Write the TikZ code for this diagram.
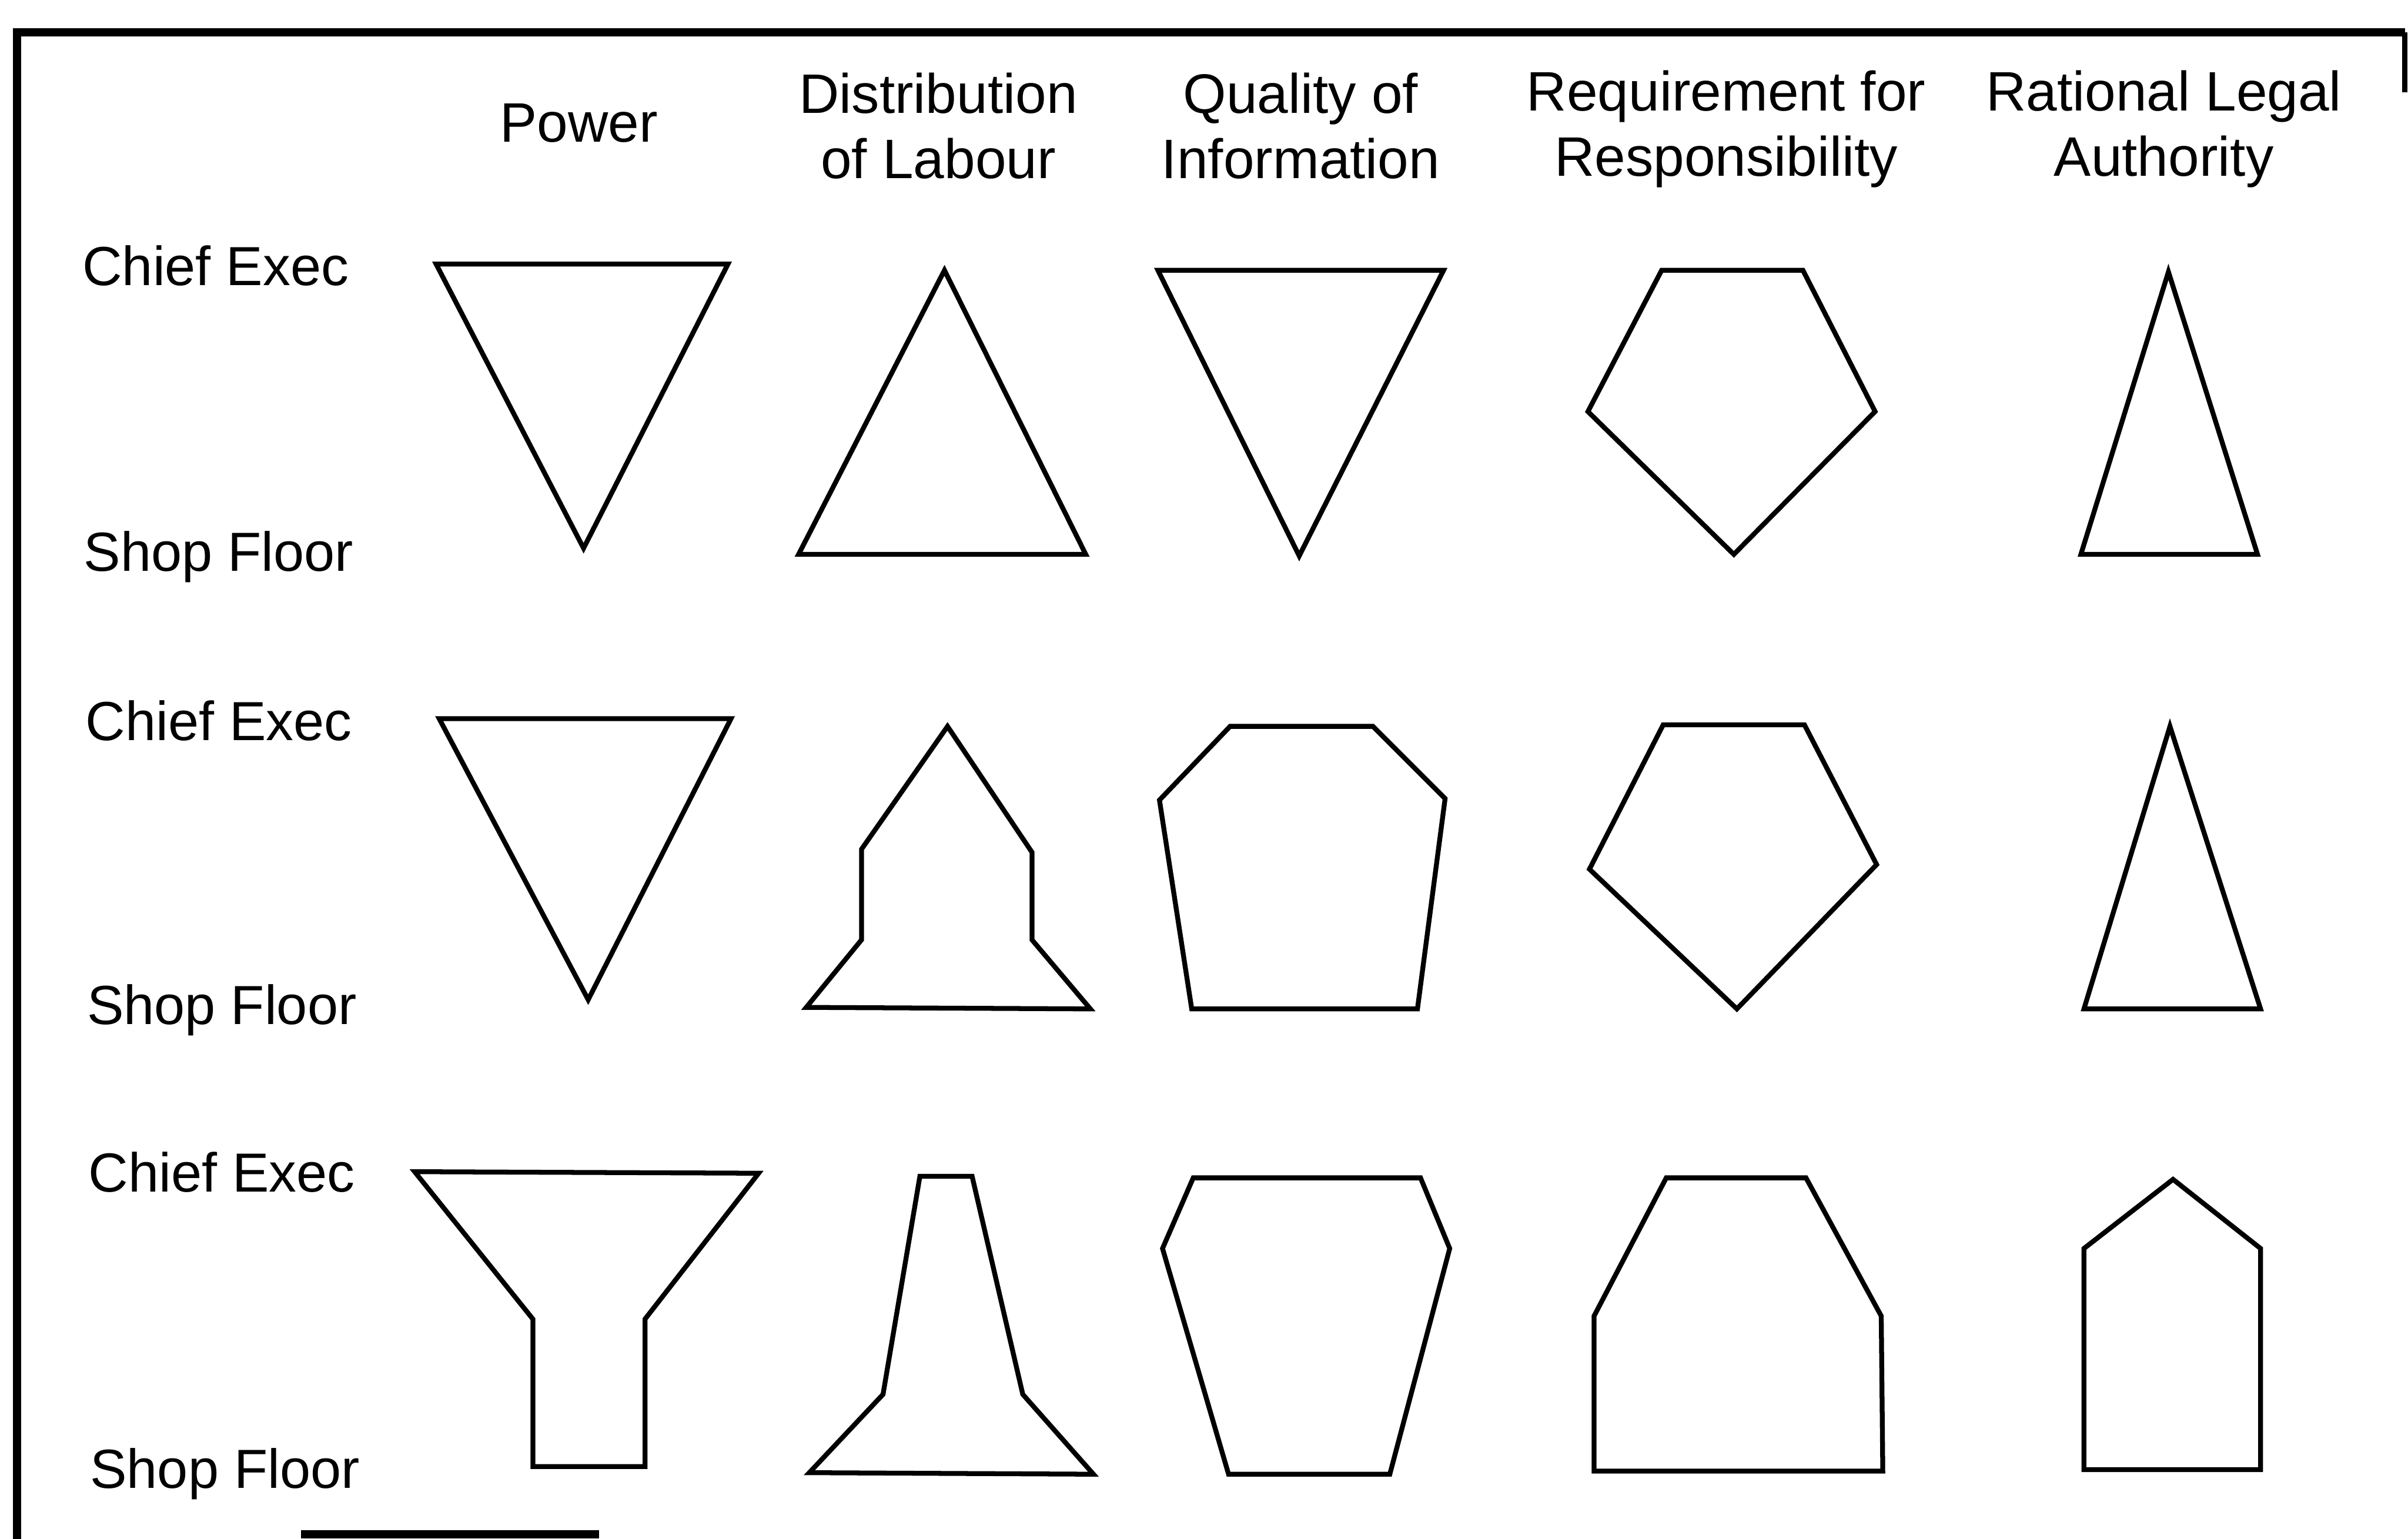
\documentclass[tikz,border=0pt]{standalone}
\usepackage{fontspec}
\setmainfont{Liberation Sans}

\begin{document}
\begin{tikzpicture}[x=0.01cm,y=-0.01cm,
    outline/.style={draw,line width=0.9pt,line join=miter},
    frame/.style={draw,line width=1.5pt},
    head/.style={align=center,font=\fontsize{10.3}{12}\selectfont},
    rowlab/.style={anchor=base west,inner sep=0pt,font=\fontsize{10.2}{12}\selectfont},
  ]
  \useasboundingbox (0,0) rectangle (1568,1002);

  % frame
  \draw[frame] (11,1002) -- (11,21) -- (1566,21);
  \draw[line width=1pt] (1566,21) -- (1566,60);
  \draw[frame] (196,999) -- (390,999);

  % column heads
  \node[head] (hpow)  at (377,80)  {Power};
  \node[head] (hdist) at (611,82)  {Distribution\\of Labour};
  \node[head] (hqual) at (847,82)  {Quality of\\Information};
  \node[head] (hreq)  at (1124,84) {Requirement for\\Responsibility};
  \node[head] (hrat)  at (1409,84) {Rational Legal\\Authority};

  % row labels
  \node[rowlab] (chief1) at (53,186) {Chief Exec};
  \node[rowlab] (shop1)  at (54,372) {Shop Floor};
  \node[rowlab] (chief2) at (55,482) {Chief Exec};
  \node[rowlab] (shop2)  at (56,667) {Shop Floor};
  \node[rowlab] (chief3) at (57,776) {Chief Exec};
  \node[rowlab] (shop3)  at (58,969) {Shop Floor};

  % first row
  \draw[outline] (284,172) -- (474,172) -- (380,357) -- cycle;
  \draw[outline] (520,361) -- (707,361) -- (615,176) -- cycle;
  \draw[outline] (754,176) -- (940,176) -- (846,362) -- cycle;
  \draw[outline] (1082,176) -- (1174,176) -- (1221,268) -- (1129,361)
                 -- (1034,268) -- cycle;
  \draw[outline] (1355,361) -- (1470,361) -- (1412,177) -- cycle;

  % second row
  \draw[outline] (286,468) -- (476,468) -- (383,651) -- cycle;
  \draw[outline] (525,656) -- (561,612) -- (561,553) -- (617,473)
                 -- (672,555) -- (672,612) -- (710,657) -- cycle;
  \draw[outline] (801,473) -- (894,473) -- (941,520) -- (923,657)
                 -- (776,657) -- (755,521) -- cycle;
  \draw[outline] (1083,472) -- (1175,472) -- (1222,563) -- (1131,657)
                 -- (1035,566) -- cycle;
  \draw[outline] (1357,657) -- (1472,657) -- (1413,473) -- cycle;

  % third row
  \draw[outline] (270,763) -- (494,764) -- (420,859) -- (420,955)
                 -- (347,955) -- (347,859) -- cycle;
  \draw[outline] (527,959) -- (575,908) -- (599,766) -- (633,766)
                 -- (666,908) -- (712,960) -- cycle;
  \draw[outline] (777,767) -- (925,767) -- (944,813) -- (905,960)
                 -- (800,960) -- (757,813) -- cycle;
  \draw[outline] (1085,767) -- (1176,767) -- (1225,857) -- (1226,958)
                 -- (1038,958) -- (1038,857) -- cycle;
  \draw[outline] (1415,768) -- (1472,813) -- (1472,957) -- (1357,957)
                 -- (1357,813) -- cycle;
\end{tikzpicture}
\end{document}
